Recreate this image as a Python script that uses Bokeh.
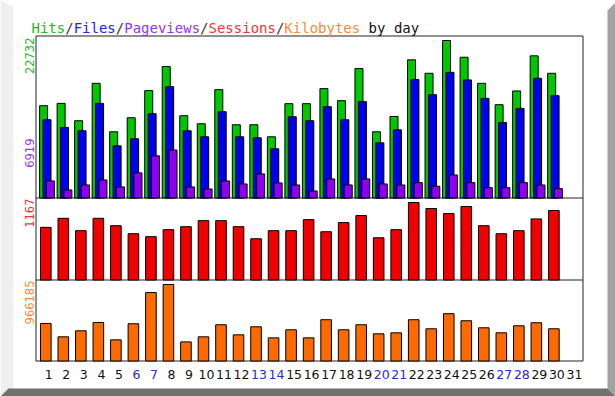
from math import pi
from bokeh.plotting import figure
from bokeh.models import Range1d, ColumnDataSource, LabelSet, Label
from bokeh.core.properties import value
from bokeh.embed import file_html
from bokeh.resources import INLINE

# ---------------- data ----------------
days = list(range(1, 32))
day_labels = [str(d) for d in days]
weekend_days = [6, 7, 13, 14, 20, 21, 27, 28]
data_days = list(range(1, 31))
hits = [13322, 13655, 11150, 16551, 9557, 11584, 15494, 18969, 11874, 10715,
        15638, 10570, 10570, 8833, 13611, 13611, 15783, 14046, 18679, 9557,
        11772, 19939, 17999, 22732, 20315, 16551, 13466, 15450, 20518, 17999]
files = [11294, 10180, 9702, 13655, 7530, 8543, 12163, 16073, 9702, 8833,
         12453, 8833, 8688, 7095, 11729, 11150, 13177, 11294, 13901, 7964,
         9846, 17086, 14914, 18143, 17043, 14379, 10903, 12931, 17275, 14770]
pageviews = [2462, 1158, 1882, 2606, 1593, 3620, 6082, 6919, 1593, 1303,
             2462, 2027, 3475, 2172, 1882, 1014, 2751, 1882, 2751, 2027,
             1882, 2215, 1694, 3330, 2215, 1491, 1491, 2215, 1882, 1347]
sessions = [793, 929, 743, 929, 818, 697, 652, 758, 803, 894,
            894, 803, 621, 743, 743, 909, 727, 864, 970, 636,
            758, 1167, 1076, 1000, 1106, 818, 697, 743, 920, 1046]
kbytes = [474200, 305100, 381400, 486900, 267000, 470400, 864500, 966185, 241500, 305100,
          457700, 330500, 432200, 292400, 394100, 292400, 521200, 394100, 457700, 343300,
          356000, 521200, 406800, 597500, 508500, 419500, 356000, 445000, 483100, 406800]

# ---------------- style / layout ----------------
GREEN, BLUE, PURPLE, RED, ORANGE = "#00c800", "#0000f0", "#9000f0", "#f00000", "#ff6a00"
T_GREEN, T_BLUE, T_PURPLE, T_RED, T_ORANGE = "#22bb22", "#2222ee", "#9933ee", "#ee3333", "#ff8833"
WEEKEND_COLOR = "#2a2ad0"

W, H = 615, 396
BOX_L, BOX_R, BOX_T, BOX_B = 35.5, 582.5, 35.5, 360.5
PANELS = {"default": (197.5, 40, max(hits)), "sess": (279.5, 202, max(sessions)),
          "kb": (360.5, 284, max(kbytes))}
DAY1_X, DAY_STEP = 45.3, 17.52


def xd(px):
    return 1 + (px - DAY1_X) / DAY_STEP


def scale(name):
    b, t, m = PANELS[name]
    return m / (b - t)


def yv(name, px):
    b, t, m = PANELS[name]
    return (b - px) * scale(name)


def yrange(name):
    b, t, m = PANELS[name]
    s = scale(name)
    return Range1d(-(H - b) * s, b * s)


p = figure(width=W, height=H, output_backend="svg", toolbar_location=None,
           x_axis_location=None, y_axis_location=None,
           min_border=0, min_border_left=0, min_border_right=0,
           min_border_top=0, min_border_bottom=0)
p.x_range = Range1d(xd(0), xd(W))
p.y_range = yrange("default")
p.extra_y_ranges = {"sess": yrange("sess"), "kb": yrange("kb")}
p.grid.visible = False
p.outline_line_color = None
p.background_fill_color = "white"
p.border_fill_color = "white"

# bevelled image border
p.patch(x=[xd(0), xd(13), xd(13), xd(0)], y=[yv("default", 0), yv("default", 6),
        yv("default", 388), yv("default", 396)], fill_color="#efefef", line_color=None)
p.patch(x=[xd(607), xd(615), xd(615), xd(607)], y=[yv("default", 10), yv("default", 2),
        yv("default", 396), yv("default", 388)], fill_color="#a2a2a2", line_color=None)
p.patch(x=[xd(8), xd(607), xd(615), xd(0)], y=[yv("default", 388), yv("default", 388),
        yv("default", 396), yv("default", 396)], fill_color="#707070", line_color=None)

# chart box and panel dividers
p.quad(left=[xd(BOX_L)], right=[xd(BOX_R)], top=[yv("default", BOX_T)], bottom=[yv("default", BOX_B)],
       fill_color="white", line_color="#222222", line_width=1)
p.segment(x0=[xd(BOX_L)], x1=[xd(BOX_R)], y0=[0], y1=[0], line_color="#222222", line_width=1)
p.segment(x0=[xd(BOX_L)], x1=[xd(BOX_R)], y0=[0], y1=[0], line_color="#222222", line_width=1,
          y_range_name="sess")

# top panel: hits / files / pageviews
bw3 = 8 / DAY_STEP
p.vbar(x=[d - 2.2 / DAY_STEP for d in data_days], top=hits, width=bw3,
       fill_color=GREEN, line_color="black", line_width=1)
p.vbar(x=[d + 1.2 / DAY_STEP for d in data_days], top=files, width=bw3,
       fill_color=BLUE, line_color="black", line_width=1)
p.vbar(x=[d + 4.6 / DAY_STEP for d in data_days], top=pageviews, width=bw3,
       fill_color=PURPLE, line_color="black", line_width=1)

bw = 10.6 / DAY_STEP
p.vbar(x=data_days, top=sessions, width=bw, fill_color=RED, line_color="black",
       line_width=1, y_range_name="sess")
p.vbar(x=data_days, top=kbytes, width=bw, fill_color=ORANGE, line_color="black",
       line_width=1, y_range_name="kb")

# day labels
src = ColumnDataSource(dict(x=days, text=day_labels,
                            color=[WEEKEND_COLOR if d in weekend_days else "#111111" for d in days]))
p.add_layout(LabelSet(x="x", y=yv("kb", 374), y_range_name="kb", text="text", source=src,
                      x_offset=3, text_align="center", text_baseline="middle",
                      text_color="color", text_font=value("DejaVu Sans"),
                      text_font_size=value("12.5px")))

# left max labels (rotated)
for txt, col, name, top_px in [(str(max(hits)), T_GREEN, "default", 37),
                               (str(max(pageviews)), T_PURPLE, "default", 138),
                               (str(max(sessions)), T_RED, "sess", 198),
                               (str(max(kbytes)), T_ORANGE, "kb", 280)]:
    p.add_layout(Label(x=xd(28.5), y=yv(name, top_px), y_range_name=name, text=txt,
                       angle=pi / 2, text_align="right", text_baseline="middle",
                       text_color=col, text_font="DejaVu Sans", text_font_size="11.5px"))

# multi-coloured title
CW = 14 * 0.602
parts = [("Hits", T_GREEN), ("/", "#333333"), ("Files", T_BLUE), ("/", "#333333"),
         ("Pageviews", T_PURPLE), ("/", "#333333"), ("Sessions", T_RED), ("/", "#333333"),
         ("Kilobytes", T_ORANGE), ("by day", "#111111")]
k = 0
for i, (txt, col) in enumerate(parts):
    if txt == "by day":
        k += 1  # the space before "by day"
    p.add_layout(Label(x=xd(31 + k * CW), y=yv("default", 27), text=txt, text_color=col,
                       text_font="DejaVu Sans Mono", text_font_size="14px",
                       text_align="left", text_baseline="alphabetic"))
    k += len(txt)

open("out.html", "w").write(file_html(p, INLINE))
